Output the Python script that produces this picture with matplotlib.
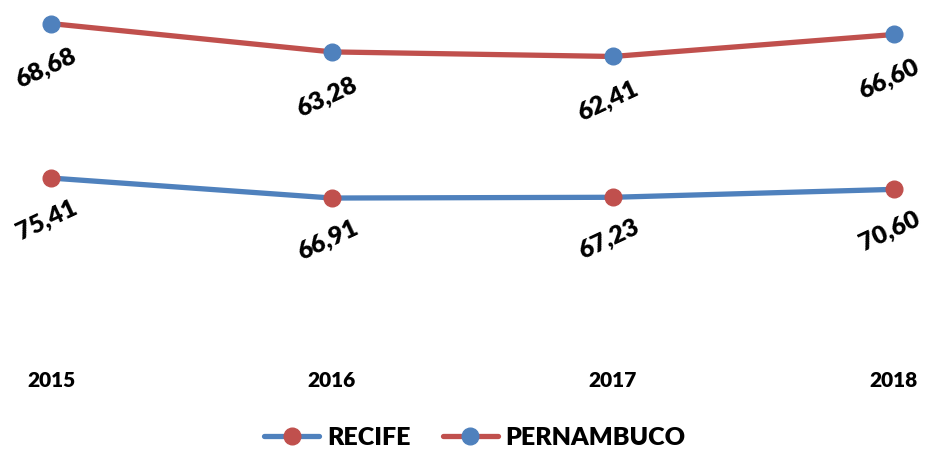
import matplotlib
matplotlib.use("Agg")
import matplotlib.pyplot as plt

plt.rcParams['font.family'] = ['Lato', 'DejaVu Sans']
plt.rcParams['font.weight'] = 'heavy'

anos = [2015, 2016, 2017, 2018]
recife = [75.41, 66.91, 67.23, 70.60]
pernambuco = [68.68, 63.28, 62.41, 66.60]
rotulos_recife = ["75,41", "66,91", "67,23", "70,60"]
rotulos_pe = ["68,68", "63,28", "62,41", "66,60"]

azul = '#4F81BD'
vermelho = '#C0504D'

W, H = 938, 449
fig = plt.figure(figsize=(W / 100, H / 100), dpi=100)
# area do grafico em pixels
esq, dir_, topo, base = 10, 928, 2.5, 355.5
ax = fig.add_axes([esq / W, 1 - base / H, (dir_ - esq) / W, (base - topo) / H])
ax2 = ax.twinx()

passo = (894 - 51) / 3
ax.set_xlim(2015 - (51 - esq) / passo, 2018 + (dir_ - 894) / passo)

l1, = ax.plot(anos, recife, color=azul, lw=3.8, marker='o', ms=12,
              mfc=vermelho, mec=vermelho, solid_capstyle='round', zorder=3)
l2, = ax2.plot(anos, pernambuco, color=vermelho, lw=3.8, marker='o', ms=12,
               mfc=azul, mec=azul, solid_capstyle='round', zorder=3)

ax.set_ylim(0, 150)
ax2.set_ylim(5.4, 72.7)

for a, v, t in zip(anos, recife, rotulos_recife):
    ax.annotate(t, (a, v), xytext=(-3, -30), textcoords='offset points',
                ha='center', va='center', rotation=25, rotation_mode='anchor',
                fontsize=18, fontweight='heavy')
for a, v, t in zip(anos, pernambuco, rotulos_pe):
    ax2.annotate(t, (a, v), xytext=(-4, -32), textcoords='offset points',
                 ha='center', va='center', rotation=25, rotation_mode='anchor',
                 fontsize=18, fontweight='heavy')

ax.set_xticks(anos)
ax.set_xticklabels([str(a) for a in anos], fontsize=15, fontweight='heavy')
ax.tick_params(axis='x', length=0, pad=11)
ax.set_yticks([])
ax2.set_yticks([])
for a in (ax, ax2):
    for s in a.spines.values():
        s.set_visible(False)
    a.patch.set_visible(False)

fig.legend([l1, l2], ['RECIFE', 'PERNAMBUCO'], loc='center',
           bbox_to_anchor=(475 / W, 1 - 438 / H), ncol=2, frameon=False,
           handlelength=2.2, handletextpad=0.3, columnspacing=1.3,
           prop={'weight': 'heavy', 'size': 18})

fig.savefig('out.png', dpi=100)
